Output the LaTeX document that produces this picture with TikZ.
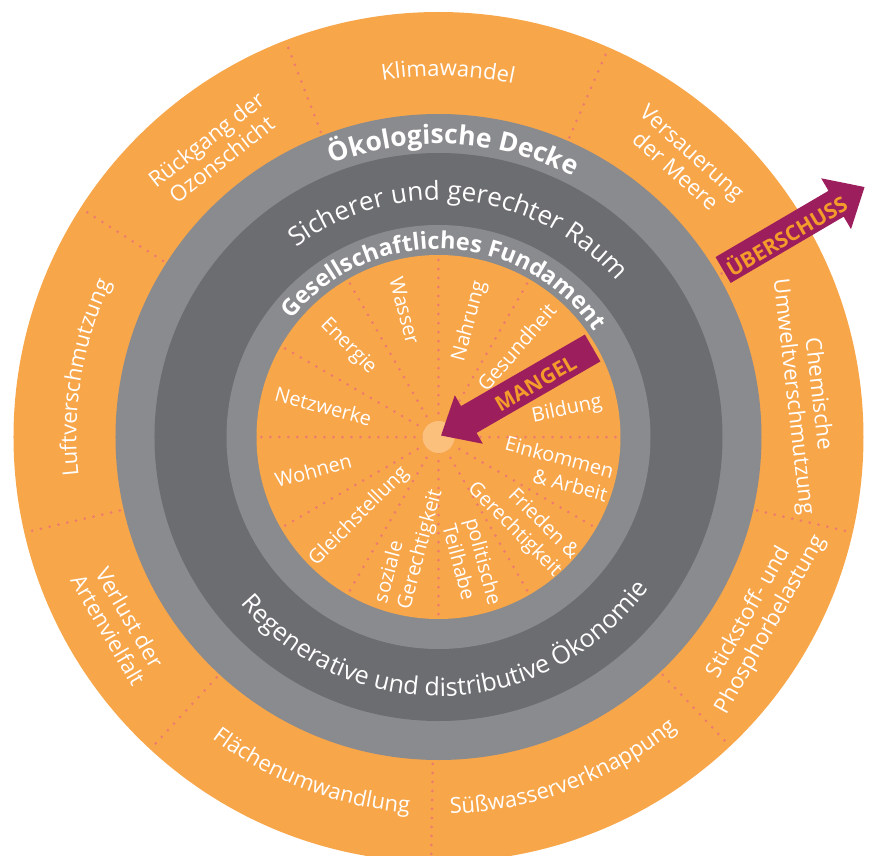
\documentclass[tikz,border=0pt]{standalone}
\usepackage{fontspec}
\setmainfont{Open Sans}
\usetikzlibrary{decorations.text}

\definecolor{ringorange}{RGB}{248,166,74}
\definecolor{ceilgray}{RGB}{138,139,142}
\definecolor{spacegray}{RGB}{108,109,113}
\definecolor{dotred}{RGB}{236,124,110}
\definecolor{hubcolor}{RGB}{251,192,124}
\definecolor{arrowplum}{RGB}{156,30,92}
\definecolor{arrowtext}{RGB}{243,156,44}

% text on a circle: clockwise (tops outward) or counterclockwise (tops inward)
\newcommand\toparc[4]{%
  \path[decorate, decoration={text along path, text align=center,
    text color=white, text={|#3|#4}}]
    ({#1+75}:#2) arc[start angle={#1+75}, end angle={#1-75}, radius=#2];}
\newcommand\bottomarc[4]{%
  \path[decorate, decoration={text along path, text align=center,
    text color=white, text={|#3|#4}}]
    ({#1-75}:#2) arc[start angle={#1-75}, end angle={#1+75}, radius=#2];}

\begin{document}
\begin{tikzpicture}[x=1pt, y=1pt,
    dotline/.style={dotred, line width=3pt, line cap=round, dash pattern=on 0pt off 9pt},
    innerlabel/.style={text=white, inner sep=0pt, font=\fontsize{20}{24}\selectfont},
    outerlabel/.style={text=white, align=center, inner sep=0pt, font=\fontsize{22}{25}\selectfont},
    arrowlabel/.style={text=arrowtext, inner sep=0pt, font=\bfseries\fontsize{21}{21}\selectfont}]
  \useasboundingbox (-438.5,-418) rectangle (437.5,437);
  \clip (-438.5,-418) rectangle (437.5,437);

  % Rings
  \fill[ringorange] (0,0) circle[radius=425];
  \fill[ceilgray] (0,0) circle[radius=323];
  \fill[spacegray] (0,0) circle[radius=284];
  \fill[ceilgray] (0,0) circle[radius=212];
  \fill[ringorange] (0,0) circle[radius=182];

  % Dotted separators
  \foreach \a in {0,30,...,330}
    \draw[dotline] (\a:6) -- (\a:180);
  \foreach \a in {30,66.4,111.1,147.4,193,227.3,269,313.3,347}
    \draw[dotline] (\a:327) -- (\a:422);
  \fill[hubcolor] (0,0) circle[radius=16];

  % Ring titles
  \toparc{87}{293}{\bfseries\fontsize{26.5}{26.5}\selectfont}{Ökologische Decke}
  \toparc{84}{237}{\fontsize{26}{26}\selectfont}{Sicherer und gerechter Raum}
  \toparc{87.7}{188}{\bfseries\fontsize{23.5}{23.5}\selectfont}{Gesellschaftliches Fundament}
  \bottomarc{272.2}{259}{\fontsize{25}{25}\selectfont}{Regenerative und distributive Ökonomie}

  % Ecological ceiling
  \toparc{88.5}{361}{\fontsize{22}{22}\selectfont}{Klimawandel}
  \toparc{170.5}{362}{\fontsize{22}{22}\selectfont}{Luftverschmutzung}
  \bottomarc{249.3}{377}{\fontsize{22}{22}\selectfont}{Flächenumwandlung}
  \bottomarc{290.5}{377}{\fontsize{22}{22}\selectfont}{Süßwasserverknappung}
  \node[outerlabel, rotate=38] (ozone) at (128:365) {Rückgang der\\Ozonschicht};
  \node[outerlabel, rotate=-41.7] (ocean) at (48.3:369) {Versauerung\\der Meere};
  \node[outerlabel, rotate=-83.5] (chem) at (6.5:369) {Chemische\\Umweltverschmutzung};
  \node[outerlabel, rotate=60.5] (nitro) at (330.5:369) {Stickstoff- und\\Phosphorbelastung};
  \node[outerlabel, rotate=-59.7] (bio) at (210.3:370) {Verlust der\\Artenvielfalt};

  % Social foundation
  \foreach \a/\r/\n/\t in {75/161/food/Nahrung, 49/173/health/Gesundheit,
      12/167/edu/Bildung, -15/178/income/{Einkommen\\\& Arbeit},
      -45/181/peace/{Frieden \&\\Gerechtigkeit}}
    \node[innerlabel, anchor=east, align=right, rotate=\a] (\n) at (\a:\r) {\t};
  \foreach \a/\r/\n/\t in {105/165/water/Wasser, 135/163/energy/Energie,
      165/169/network/Netzwerke, 195/169/housing/Wohnen,
      225/178/gender/Gleichstellung, 255/175/equity/{soziale\\Gerechtigkeit}}
    \node[innerlabel, anchor=west, align=left, rotate=\a+180] (\n) at (\a:\r) {\t};
  \node[innerlabel, anchor=west, align=left, rotate=-75] (voice) at (-75:87) {politische\\Teilhabe};

  % Arrows
  \begin{scope}[rotate=30.4]
    \fill[arrowplum] (330,-15) -- (461,-15) -- (461,-29.5) -- (494,0)
      -- (461,29.5) -- (461,15) -- (330,15) -- cycle;
  \end{scope}
  \begin{scope}[rotate=30]
    \fill[arrowplum] (178,-15.5) -- (35,-15.5) -- (35,-28) -- (3,0)
      -- (35,28) -- (35,15.5) -- (178,15.5) -- cycle;
  \end{scope}
  \node[arrowlabel, rotate=30.4] (overshoot) at (30.2:402) {ÜBERSCHUSS};
  \node[arrowlabel, rotate=30] (shortfall) at (29:111) {MANGEL};
\end{tikzpicture}
\end{document}
